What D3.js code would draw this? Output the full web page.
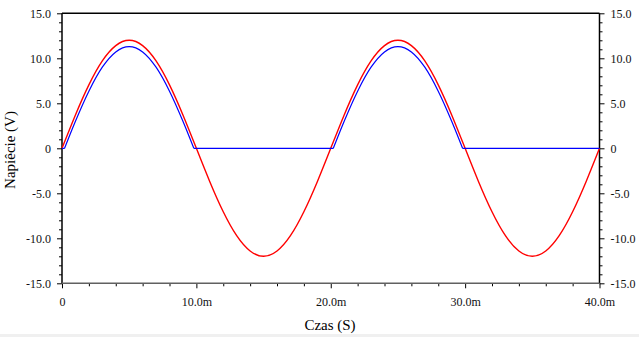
<!DOCTYPE html>
<html><head><meta charset="utf-8">
<script src="https://cdn.jsdelivr.net/npm/d3@7"></script>
<style>body{margin:0;background:#fff;}svg{display:block;}text{font-family:"Liberation Serif","Times New Roman",serif;}</style>
</head><body><svg id="c" width="639" height="337"></svg>
<script>
// Data (time in ms, voltage in V)
const redT = [0,1,2,3,4,5,6,7,8,9,10,11,12,13,14,15,16,17,18,19,20,21,22,23,24,25,26,27,28,29,30,31,32,33,34,35,36,37,38,39,40];
const redV = [0,3.71,7.05,9.71,11.41,12.0,11.41,9.71,7.05,3.71,0,-3.71,-7.05,-9.71,-11.41,-12.0,-11.41,-9.71,-7.05,-3.71,0,3.71,7.05,9.71,11.41,12.0,11.41,9.71,7.05,3.71,0,-3.71,-7.05,-9.71,-11.41,-12.0,-11.41,-9.71,-7.05,-3.71,0];
const blueT = [0,0.19,0.5,1,2,3,4,5,6,7,8,9,9.5,9.81,20.19,20.5,21,22,23,24,25,26,27,28,29,29.5,29.81,40];
const blueV = [0,0,1.18,3.01,6.35,9.01,10.71,11.3,10.71,9.01,6.35,3.01,1.18,0,0,1.18,3.01,6.35,9.01,10.71,11.3,10.71,9.01,6.35,3.01,1.18,0,0];
const xTickVals = [0,10,20,30,40];
const xTickLabels = ["0","10.0m","20.0m","30.0m","40.0m"];
const yTickVals = [15,10,5,0,-5,-10,-15];
const yTickLabels = ["15.0","10.0","5.0","0","-5.0","-10.0","-15.0"];
const xLabel = "Czas (S)";
const yLabel = "Napiêcie (V)";

const svg = d3.select("#c");
svg.append("rect").attr("x",0).attr("y",334).attr("width",639).attr("height",3).attr("fill","#f0f0f0");
const L=62,R=599.5,T=13.3,B=283.3;
const x = d3.scaleLinear().domain([0,40]).range([L,R]);
const y = d3.scaleLinear().domain([-15,15]).range([B,T]);

const g = svg.append("g");
const xMinor = d3.range(0,40.01,2).filter(v=>v%10!==0);
const yMinor = d3.range(-15,15.01,1).filter(v=>v%5!==0);

function axisStyle(sel,color){sel.select(".domain").remove();sel.selectAll("line").attr("stroke",color);sel.selectAll("text").attr("font-size","12px").attr("fill","#111");}

const ax1=g.append("g").attr("transform",`translate(0,${B})`).call(d3.axisBottom(x).tickValues(xTickVals).tickFormat((d,i)=>xTickLabels[i]).tickSize(5).tickPadding(9));
axisStyle(ax1,"#000");
const ax1m=g.append("g").attr("transform",`translate(0,${B})`).call(d3.axisBottom(x).tickValues(xMinor).tickFormat("").tickSize(3));
axisStyle(ax1m,"#000");

const ay1=g.append("g").attr("transform",`translate(${L},0)`).call(d3.axisLeft(y).tickValues(yTickVals).tickFormat((d,i)=>yTickLabels[i]).tickSize(5).tickPadding(6));
axisStyle(ay1,"#000");
const ay1m=g.append("g").attr("transform",`translate(${L},0)`).call(d3.axisLeft(y).tickValues(yMinor).tickFormat("").tickSize(3));
axisStyle(ay1m,"#000");
const ay2=g.append("g").attr("transform",`translate(${R},0)`).call(d3.axisRight(y).tickValues(yTickVals).tickFormat((d,i)=>yTickLabels[i]).tickSize(5).tickPadding(6));
axisStyle(ay2,"#000");
const ay2m=g.append("g").attr("transform",`translate(${R},0)`).call(d3.axisRight(y).tickValues(yMinor).tickFormat("").tickSize(3));
axisStyle(ay2m,"#000");

g.append("line").attr("x1",L).attr("x2",R).attr("y1",T).attr("y2",T).attr("stroke","#000").attr("stroke-width",1.5);
g.append("line").attr("x1",L).attr("x2",L).attr("y1",T).attr("y2",B).attr("stroke","#000").attr("stroke-width",1.5);
g.append("line").attr("x1",R).attr("x2",R).attr("y1",T).attr("y2",B).attr("stroke","#000").attr("stroke-width",1.5);
g.append("line").attr("x1",L).attr("x2",R).attr("y1",B).attr("y2",B).attr("stroke","#606060").attr("stroke-width",1.5);

const red = redT.map((t,i)=>[t,redV[i]]);
const blue = blueT.map((t,i)=>[t,blueV[i]]);
g.append("path").datum(red).attr("d",d3.line().x(d=>x(d[0])).y(d=>y(d[1])).curve(d3.curveNatural)).attr("fill","none").attr("stroke","#ff0000").attr("stroke-width",1.4);

// split blue into arcs / flat pieces at zero points so the kinks stay sharp
const groups=[]; let cur=[blue[0]];
for(let i=1;i<blue.length;i++){cur.push(blue[i]); if(blue[i][1]===0){groups.push(cur); cur=[blue[i]];}}
if(cur.length>1) groups.push(cur);
const bl = d3.line().x(d=>x(d[0])).y(d=>y(d[1])).curve(d3.curveMonotoneX);
g.append("path").attr("d",groups.map(gr=>bl(gr)).join("")).attr("fill","none").attr("stroke","#0000ff").attr("stroke-width",1.2);

svg.append("text").attr("x",330).attr("y",330).attr("text-anchor","middle").attr("font-size","15px").attr("fill","#000").text(xLabel);
svg.append("text").attr("transform","translate(15,150) rotate(-90)").attr("text-anchor","middle").attr("font-size","15px").attr("fill","#000").text(yLabel);
</script></body></html>
